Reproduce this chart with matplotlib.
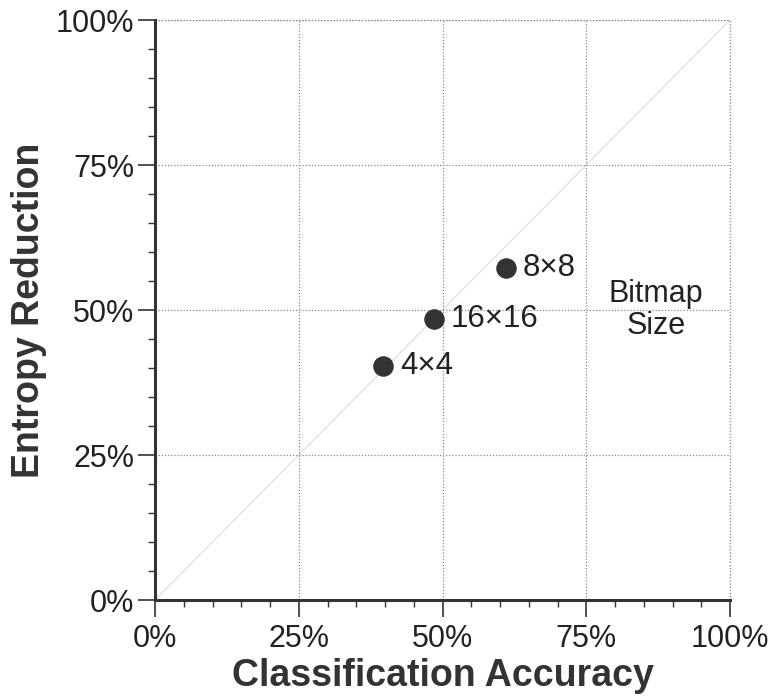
import matplotlib
matplotlib.use("Agg")
import matplotlib.pyplot as plt
from matplotlib.ticker import MultipleLocator, FuncFormatter

plt.rcParams["font.family"] = ["Liberation Sans", "DejaVu Sans"]

# bitmap sizes: classification accuracy vs entropy reduction (%)
sizes = ["4\u00d74", "16\u00d716", "8\u00d78"]
accuracy = [39.7, 48.5, 61.0]
entropy = [40.3, 48.4, 57.3]

fig = plt.figure(figsize=(7.72, 6.98), dpi=100)
ax = fig.add_axes([0.2008, 0.1404, 0.7448, 0.8309])

ax.plot([0, 100], [0, 100], color="#dddddd", lw=0.8, zorder=1)
ax.scatter(accuracy, entropy, s=190, color="#333333", zorder=3)
for x, y, lab in zip(accuracy, entropy, sizes):
    ax.text(x + 2.9, y, lab, fontsize=22.5, va="center", ha="left", color="#222222")
ax.text(87.1, 50, "Bitmap\nSize", fontsize=22, ha="center", va="center",
        color="#222222", linespacing=1.1)

ax.set_xlim(0, 100)
ax.set_ylim(0, 100)
ax.xaxis.set_major_locator(MultipleLocator(25))
ax.yaxis.set_major_locator(MultipleLocator(25))
ax.xaxis.set_minor_locator(MultipleLocator(5))
ax.yaxis.set_minor_locator(MultipleLocator(5))
pct = FuncFormatter(lambda v, p: f"{v:.0f}%")
ax.xaxis.set_major_formatter(pct)
ax.yaxis.set_major_formatter(pct)
ax.tick_params(which="major", length=12, width=1.2, labelsize=22, pad=3,
               color="#333333", labelcolor="#222222")
ax.tick_params(axis="x", which="major", pad=5)
ax.tick_params(which="minor", length=5, width=1.0, color="#333333")

ax.grid(True, which="major", ls=(0, (1, 1.5)), color="#888888", lw=0.9)
for s in ["top", "right"]:
    ax.spines[s].set_visible(False)
for s in ["left", "bottom"]:
    ax.spines[s].set_linewidth(2.2)
    ax.spines[s].set_color("#333333")
# dotted gridlines along the top and right edges
ax.axhline(100, ls=(0, (1, 1.5)), color="#888888", lw=0.9, clip_on=False)
ax.axvline(100, ls=(0, (1, 1.5)), color="#888888", lw=0.9, clip_on=False)

ax.set_xlabel("Classification Accuracy", fontsize=27, fontweight="bold",
              color="#333333", labelpad=3)
ax.set_ylabel("Entropy Reduction", fontsize=27, fontweight="bold",
              color="#333333", labelpad=6)

fig.savefig("out.png", dpi=100)
